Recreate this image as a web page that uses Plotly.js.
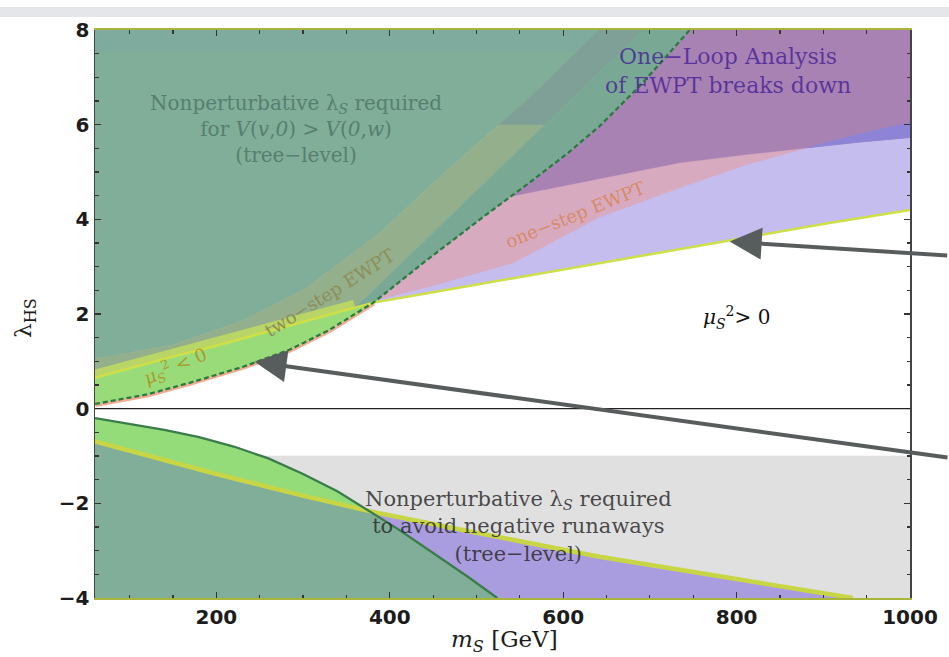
<!DOCTYPE html>
<html>
<head>
<meta charset="utf-8">
<script src="https://cdn.plot.ly/plotly-3.0.1.min.js"></script>
<style>
html, body { margin: 0; padding: 0; background: #ffffff; }
#chart { width: 949px; height: 657px; }
</style>
</head>
<body>
<div id="chart"></div>
<script>
// Axis extents: singlet mass m_S [GeV] and portal coupling lambda_HS
const mRange = [60, 1000];
const lamRange = [-4, 8];
const runawayCutLam = -1;     // upper edge of the negative-runaway band
const twoStepLoopLam = 6;     // two-step band: loop expansion unreliable above this
const topStripLam = 7.55;     // top strip of the tree-level vacuum region

// mu_S^2 = 0 boundary (dashed)
const mu0M   = [60, 120, 170, 230, 285, 330, 381, 440, 504, 560, 604, 642, 690, 746];
const mu0Lam = [0.10, 0.30, 0.55, 0.88, 1.25, 1.66, 2.24, 3.10, 4.00, 4.76, 5.38, 5.97, 6.85, 8.00];

// lower edge of the strong-transition window (yellow)
const strongM   = [60, 150, 200, 260, 320, 381, 450, 540, 642, 720, 800, 900, 1000];
const strongLam = [0.65, 1.10, 1.33, 1.63, 1.93, 2.24, 2.46, 2.75, 3.08, 3.33, 3.58, 3.90, 4.20];

// upper edge of the one-step window
const oneStepM   = [381, 450, 542, 642, 735, 810, 875, 940, 1000];
const oneStepLam = [2.28, 2.60, 3.08, 4.05, 4.67, 5.15, 5.48, 5.80, 6.04];

// one-loop breakdown boundary
const loopM   = [540, 642, 735, 810, 875, 940, 1000];
const loopLam = [4.49, 4.86, 5.20, 5.37, 5.50, 5.63, 5.73];

// edges of the two-step band
const twoStepLoM   = [360, 692];
const twoStepLoLam = [2.13, 8.00];
const twoStepHiM   = [60, 150, 230, 300, 389, 470, 560, 642];
const twoStepHiLam = [1.05, 1.35, 1.85, 2.50, 3.72, 5.10, 6.55, 8.00];

// negative-coupling boundaries
const runM   = [60, 100, 140, 180, 220, 260, 300, 340, 374, 410, 450, 490, 524];
const runLam = [-0.20, -0.32, -0.45, -0.60, -0.80, -1.05, -1.38, -1.75, -2.13, -2.55, -3.05, -3.55, -4.00];
const stabM   = [60, 200, 296, 385, 500, 642, 800, 934];
const stabLam = [-0.69, -1.38, -1.82, -2.20, -2.62, -3.13, -3.60, -4.00];

// ---------- geometry helpers ----------
function interp(xs, ys, x) {
  if (x <= xs[0]) return ys[0];
  const n = xs.length;
  if (x >= xs[n - 1]) return ys[n - 1];
  for (let i = 1; i < n; i++) {
    if (x <= xs[i]) {
      const t = (x - xs[i - 1]) / (xs[i] - xs[i - 1]);
      return ys[i - 1] + t * (ys[i] - ys[i - 1]);
    }
  }
}
function seg(xs, ys, a, b) {
  const px = [a], py = [interp(xs, ys, a)];
  for (let i = 0; i < xs.length; i++) {
    if (xs[i] > a && xs[i] < b) { px.push(xs[i]); py.push(ys[i]); }
  }
  px.push(b); py.push(interp(xs, ys, b));
  return [px, py];
}
function rev(s) { return [s[0].slice().reverse(), s[1].slice().reverse()]; }
function join() {
  const X = [], Y = [];
  for (const s of arguments) { X.push(...s[0]); Y.push(...s[1]); }
  return [X, Y];
}
function pt(x, y) { return [[x], [y]]; }
function cross(ax, ay, bx, by, lo, hi) {
  const f = x => interp(ax, ay, x) - interp(bx, by, x);
  let flo = f(lo);
  for (let k = 0; k < 60; k++) {
    const mid = (lo + hi) / 2, fm = f(mid);
    if ((fm > 0) === (flo > 0)) { lo = mid; flo = fm; } else { hi = mid; }
  }
  return (lo + hi) / 2;
}
function levelX(xs, ys, y) {
  for (let i = 1; i < xs.length; i++) {
    if ((ys[i - 1] - y) * (ys[i] - y) <= 0) {
      const t = (y - ys[i - 1]) / (ys[i] - ys[i - 1]);
      return xs[i - 1] + t * (xs[i] - xs[i - 1]);
    }
  }
  return xs[xs.length - 1];
}
function area(s, color) {
  return { x: s[0], y: s[1], mode: 'lines', fill: 'toself', fillcolor: color,
           line: { width: 0.6, color: color }, hoverinfo: 'skip', showlegend: false };
}
function curve(s, color, width, dash) {
  return { x: s[0], y: s[1], mode: 'lines',
           line: { width: width, color: color, dash: dash || 'solid' },
           hoverinfo: 'skip', showlegend: false };
}

const [m0, m1] = mRange;
const [lMin, lMax] = lamRange;

// key points derived from the boundaries
const xc = cross(mu0M, mu0Lam, strongM, strongLam, 300, 450);      // mu_S^2=0 meets yellow edge
const xk = cross(oneStepM, oneStepLam, loopM, loopLam, 800, 950);  // one-step edge meets loop edge
const xD8 = levelX(mu0M, mu0Lam, lMax);
const loopStart = loopM[0];
const gaStart = twoStepLoM[0];
const gaTop = twoStepLoM[twoStepLoM.length - 1];
const gbTop = twoStepHiM[twoStepHiM.length - 1];

const D = [mu0M, mu0Lam];
const traces = [];

// gray band: nonperturbative lambda_S needed against runaways
traces.push(area(join(pt(m0, lMin), pt(m1, lMin), pt(m1, runawayCutLam), pt(m0, runawayCutLam)), '#e0e0e1'));

// one-step window (lavender)
traces.push(area(join(seg(strongM, strongLam, xc, m1), pt(m1, lMax), pt(xD8, lMax),
                      rev(seg(mu0M, mu0Lam, xc, xD8))), '#c6bdef'));
// one-step EWPT band (pink)
traces.push(area(join(seg(oneStepM, oneStepLam, oneStepM[0], xk),
                      rev(seg(loopM, loopLam, loopStart, xk)),
                      rev(seg(mu0M, mu0Lam, xc, loopStart))), '#d7aabf'));
// one-loop analysis breaks down (mauve)
traces.push(area(join(seg(loopM, loopLam, loopStart, m1), pt(m1, lMax), pt(xD8, lMax),
                      rev(seg(mu0M, mu0Lam, loopStart, xD8))), '#a882b3'));
// overlap of loop breakdown with one-step window
traces.push(area(join(seg(loopM, loopLam, xk, m1), rev(seg(oneStepM, oneStepLam, xk, m1))), '#8d84d8'));

// thin salmon rim under the dashed boundary
traces.push(curve(seg(mu0M, mu0Lam, m0, xc), '#f2ac92', 6));

// tree-level vacuum requirement region (teal)
traces.push(area(join([twoStepHiM, twoStepHiLam], pt(m0, lMax)), '#80ae98'));
const xs7 = levelX(twoStepHiM, twoStepHiLam, topStripLam);
traces.push(area(join(pt(m0, topStripLam), seg(twoStepHiM, twoStepHiLam, xs7, gbTop), pt(m0, lMax)), '#7faa9e'));

// two-step EWPT band (olive)
traces.push(area(join([twoStepHiM, twoStepHiLam], rev([twoStepLoM, twoStepLoLam]),
                      rev(seg(strongM, strongLam, m0, gaStart))), '#93af8c'));
const xb6 = levelX(twoStepHiM, twoStepHiLam, twoStepLoopLam);
const xa6 = levelX(twoStepLoM, twoStepLoLam, twoStepLoopLam);
traces.push(area(join(seg(twoStepHiM, twoStepHiLam, xb6, gbTop), rev(seg(twoStepLoM, twoStepLoLam, xa6, gaTop))), '#7fa097'));
// band between the two-step band and the dashed boundary
traces.push(area(join(seg(twoStepLoM, twoStepLoLam, gaStart, gaTop),
                      rev(seg(mu0M, mu0Lam, xc, xD8)),
                      rev(seg(strongM, strongLam, gaStart, xc))), '#79a995'));

// yellow strip above the strong-transition edge, then mu_S^2 < 0 region (light green)
traces.push(curve(seg(strongM, strongLam, m0, gaStart), '#b9d566', 16));
traces.push(area(join(seg(mu0M, mu0Lam, m0, xc), rev(seg(strongM, strongLam, m0, xc))), '#98db78'));
traces.push(curve([strongM, strongLam], '#cfdf48', 2.5));
traces.push(curve(D, '#2d7a40', 2.3, '5px,3px'));

// negative lambda_HS side
const runEnd = runM[runM.length - 1];
traces.push(area(join([runM, runLam], pt(m0, lMin)), '#94db7a'));
traces.push(area(join([stabM, stabLam], pt(m0, lMin)), '#a99ddf'));
const xe = cross(runM, runLam, stabM, stabLam, 300, 450);
traces.push(area(join(seg(stabM, stabLam, m0, xe), seg(runM, runLam, xe, runEnd), pt(m0, lMin)), '#80ae98'));
traces.push(curve([stabM, stabLam], '#c8d646', 4.5));
traces.push(curve([runM, runLam], '#3a7d4b', 2.3));

const serif = 'DejaVu Serif, Liberation Serif, serif';
const sans = 'DejaVu Sans, Liberation Sans, sans-serif';

const annotations = [
  { x: 292, y: 5.9, text: 'Nonperturbative λ<sub><i>S</i></sub> required<br>for <i>V</i>(<i>v</i>,<i>0</i>) &gt; <i>V</i>(<i>0</i>,<i>w</i>)<br>(tree−level)',
    font: { family: serif, size: 20, color: '#577f6f' } },
  { x: 790, y: 7.13, text: 'One−Loop Analysis<br>of EWPT breaks down',
    font: { family: serif, size: 22, color: 'rgba(70,30,150,0.78)' } },
  { x: 614, y: 4.1, text: 'one−step EWPT', textangle: -22,
    font: { family: serif, size: 18, color: '#d98a68' } },
  { x: 331, y: 2.45, text: 'two−step EWPT', textangle: -32,
    font: { family: serif, size: 18, color: '#8e8e56' } },
  { x: 152, y: 0.9, text: '<i>μ<sub>S</sub></i><sup>2</sup> &lt; 0', textangle: -23,
    font: { family: serif, size: 18, color: '#a99a2c' } },
  { x: 800, y: 1.92, text: '<i>μ<sub>S</sub></i><sup>2</sup>&gt; 0',
    font: { family: serif, size: 20, color: '#111111' } },
  { x: 548, y: -2.49, text: 'Nonperturbative λ<sub><i>S</i></sub> required<br>to avoid negative runaways<br>(tree−level)',
    font: { family: serif, size: 21, color: 'rgba(45,45,45,0.85)' } },
  // pointers from the right margin
  { x: 792, y: 3.53, text: '', showarrow: true, ax: 219, ay: 14, arrowhead: 2, arrowsize: 1.6,
    arrowwidth: 4, arrowcolor: '#575c5c', standoff: 0 },
  { x: 244, y: 0.99, text: '', showarrow: true, ax: 705, ay: 96, arrowhead: 2, arrowsize: 1.6,
    arrowwidth: 4, arrowcolor: '#575c5c', standoff: 0 }
].map(a => Object.assign({ xref: 'x', yref: 'y', showarrow: false }, a));

// axis titles, placed in the margins
annotations.push(
  { xref: 'paper', yref: 'paper', x: 0.503, y: -0.075, xanchor: 'center', yanchor: 'middle', showarrow: false,
    text: '<i>m<sub>S</sub></i> [GeV]', font: { family: serif, size: 23, color: '#1c1c1c' } },
  { xref: 'paper', yref: 'paper', x: -0.086, y: 0.493, xanchor: 'center', yanchor: 'middle', showarrow: false,
    textangle: -90, text: 'λ<sub>HS</sub>', font: { family: serif, size: 23, color: '#1c1c1c' } }
);

const layout = {
  width: 949, height: 657,
  margin: { l: 95, r: 39, t: 30, b: 59 },
  paper_bgcolor: '#ffffff', plot_bgcolor: '#ffffff',
  showlegend: false,
  xaxis: {
    range: mRange, tick0: 0, dtick: 200, ticks: 'inside', ticklen: 6, tickwidth: 1.3, tickcolor: '#333',
    minor: { dtick: 50, ticks: 'inside', ticklen: 3.5, tickwidth: 1.2, tickcolor: '#333' },
    mirror: 'ticks', showline: true, linecolor: '#a9b43a', linewidth: 2,
    showgrid: false, zeroline: false,
    tickfont: { family: sans, size: 20, color: '#1c1c1c', weight: 'bold' }
  },
  yaxis: {
    range: lamRange, tick0: 0, dtick: 2, ticks: 'inside', ticklen: 6, tickwidth: 1.3, tickcolor: '#333',
    minor: { dtick: 0.5, ticks: 'inside', ticklen: 3.5, tickwidth: 1.2, tickcolor: '#333' },
    mirror: 'ticks', showline: true, linecolor: '#444', linewidth: 1.5,
    showgrid: false, zeroline: true, zerolinecolor: '#222', zerolinewidth: 1.3,
    tickfont: { family: sans, size: 20, color: '#1c1c1c', weight: 'bold' }
  },
  shapes: [
    { type: 'rect', xref: 'paper', yref: 'paper', x0: -0.12, x1: 1.05, y0: 1.0229, y1: 1.0405,
      fillcolor: '#e4e6ea', line: { width: 0 }, layer: 'above' },
    { type: 'line', xref: 'paper', yref: 'y', x0: 0, x1: 1, y0: 0, y1: 0,
      line: { color: '#222', width: 1.3 }, layer: 'above' }
  ],
  annotations: annotations
};

Plotly.newPlot('chart', traces, layout, { staticPlot: true, displayModeBar: false });
</script>
</body>
</html>
